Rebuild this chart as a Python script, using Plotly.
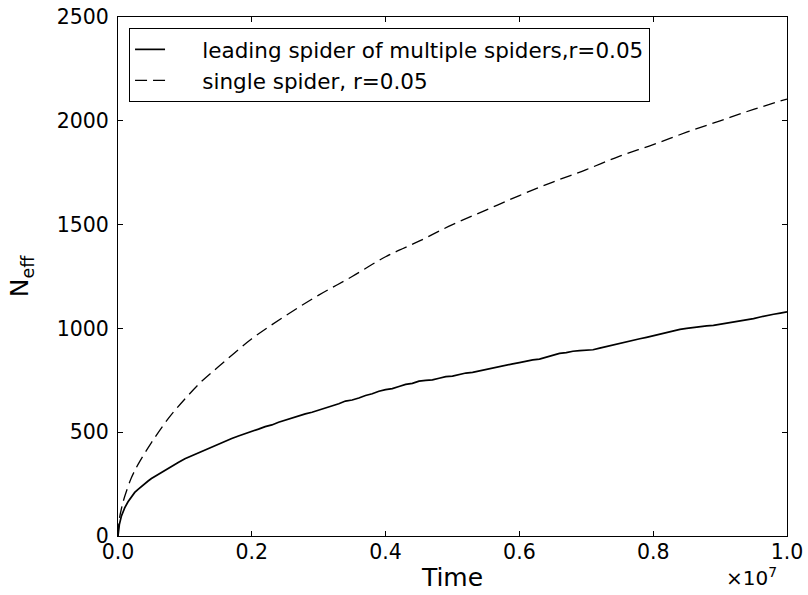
import plotly.graph_objects as go

# Time in units of 1e7 (converted below)
t_lead = [0.0, 0.002, 0.005, 0.01, 0.015, 0.02, 0.025, 0.03, 0.035, 0.04, 0.045, 0.05,
          0.06, 0.07, 0.08, 0.09, 0.10, 0.11, 0.12, 0.13, 0.14, 0.15, 0.16, 0.17, 0.18,
          0.19, 0.20, 0.21, 0.22, 0.23, 0.24, 0.25, 0.26, 0.27, 0.28, 0.29, 0.30, 0.31,
          0.32, 0.33, 0.34, 0.35, 0.36, 0.37, 0.38, 0.39, 0.40, 0.41, 0.42, 0.43, 0.44,
          0.45, 0.46, 0.47, 0.48, 0.49, 0.50, 0.51, 0.52, 0.53, 0.54, 0.55, 0.56, 0.57,
          0.58, 0.59, 0.60, 0.61, 0.62, 0.63, 0.64, 0.65, 0.66, 0.67, 0.68, 0.69, 0.70,
          0.71, 0.72, 0.73, 0.74, 0.75, 0.76, 0.77, 0.78, 0.79, 0.80, 0.81, 0.82, 0.83,
          0.84, 0.85, 0.86, 0.87, 0.88, 0.89, 0.90, 0.91, 0.92, 0.93, 0.94, 0.95, 0.96,
          0.97, 0.98, 0.99, 1.00]
n_lead = [0, 55, 95, 135, 165, 190, 210, 225, 240, 252, 265, 277,
          297, 316, 333, 354, 372, 386, 402, 414, 430, 445, 457, 470, 482,
          492, 502, 515, 527, 535, 548, 558, 570, 577, 588, 596, 606, 616,
          628, 637, 650, 655, 665, 677, 685, 697, 705, 710, 720, 730, 735,
          746, 750, 752, 760, 768, 770, 779, 785, 788, 795, 803, 810, 818,
          825, 829, 835, 843, 848, 852, 862, 872, 880, 883, 890, 893, 895,
          897, 905, 913, 920, 926, 935, 942, 950, 957, 965, 972, 980, 987,
          995, 1000, 1005, 1008, 1012, 1015, 1020, 1024, 1030, 1034, 1040, 1047, 1055,
          1060, 1068, 1074, 1080]

t_single = [0.0, 0.002, 0.005, 0.01, 0.02, 0.03, 0.05, 0.075, 0.10, 0.125, 0.15, 0.20,
            0.25, 0.30, 0.35, 0.40, 0.45, 0.50, 0.55, 0.60, 0.65, 0.70, 0.75, 0.80,
            0.85, 0.90, 0.95, 1.00]
n_single = [0, 80, 130, 190, 280, 345, 450, 565, 660, 745, 815, 950,
            1060, 1160, 1250, 1345, 1420, 1500, 1570, 1640, 1705, 1765, 1830, 1885,
            1945, 2000, 2055, 2105]

x_tick_vals = [0, 2e6, 4e6, 6e6, 8e6, 1e7]
x_tick_text = ["0.0", "0.2", "0.4", "0.6", "0.8", "1.0"]
y_tick_vals = [0, 500, 1000, 1500, 2000, 2500]
y_tick_text = ["0", "500", "1000", "1500", "2000", "2500"]

SCALE = 1e7
FONT = "DejaVu Sans"
PAD = "\u2003\u2002"  # spacing between legend sample and its text

fig = go.Figure()
fig.add_trace(go.Scatter(
    x=[v * SCALE for v in t_lead], y=n_lead, mode="lines",
    name=PAD + "leading spider of multiple spiders,r=0.05",
    line=dict(color="black", width=1.7)))
fig.add_trace(go.Scatter(
    x=[v * SCALE for v in t_single], y=n_single, mode="lines",
    name=PAD + "single spider, r=0.05", line_shape="spline",
    line=dict(color="black", width=1.3, dash="12px,6px")))

axis_common = dict(showline=True, linecolor="black", linewidth=1.2, mirror="ticks",
                   ticks="inside", ticklen=5, tickwidth=1, tickcolor="black",
                   showgrid=False, zeroline=False, automargin=False,
                   tickfont=dict(family=FONT, size=20.5, color="black"))

fig.update_xaxes(range=[0, 1e7], tickvals=x_tick_vals, ticktext=x_tick_text,
                 ticklabelstandoff=-3,
                 title=dict(text="Time", font=dict(family=FONT, size=25, color="black"),
                            standoff=5),
                 **axis_common)
fig.update_yaxes(range=[0, 2500], tickvals=y_tick_vals, ticktext=y_tick_text,
                 ticklabelstandoff=4,
                 title=dict(text="N<sub>eff</sub>", font=dict(family=FONT, size=25, color="black"),
                            standoff=20),
                 **axis_common)

fig.add_annotation(x=1.0, y=-0.05, xref="paper", yref="paper", xanchor="right",
                   yanchor="top", showarrow=False, xshift=-8,
                   text="×10<sup>7</sup>", font=dict(family=FONT, size=20, color="black"))

fig.update_layout(
    width=808, height=595,
    margin=dict(l=118, r=21, t=17, b=59),
    paper_bgcolor="white", plot_bgcolor="white",
    font=dict(family=FONT, color="black"),
    showlegend=True,
    legend=dict(x=0.0165, y=0.979, xanchor="left", yanchor="top",
                bordercolor="black", borderwidth=1, bgcolor="white",
                font=dict(family=FONT, size=21.5, color="black")),
)

# remove the default 8px page margin so the 808x595 figure fills the window exactly
fig.write_html("out.html", config={"displayModeBar": False},
               post_script="document.body.style.margin='0px';")
